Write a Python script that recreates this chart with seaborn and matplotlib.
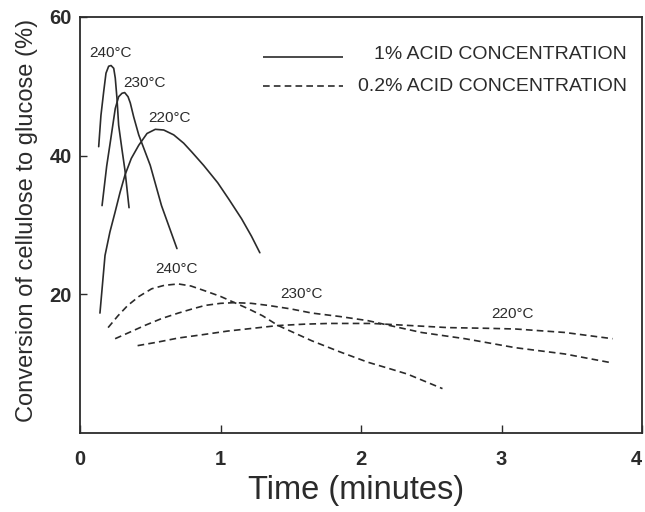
import matplotlib
matplotlib.use("Agg")
import matplotlib.pyplot as plt
import seaborn as sns
import pandas as pd

# Cellulose-to-glucose conversion (%) versus reaction time (minutes)
# 1% acid concentration
t_1pct_240 = [0.133, 0.149, 0.169, 0.185, 0.204, 0.221, 0.240, 0.251, 0.263,
              0.275, 0.298, 0.320, 0.349]
y_1pct_240 = [41.3, 45.8, 49.3, 51.9, 52.9, 53.0, 52.6, 51.2, 48.3,
              44.4, 41.0, 37.9, 32.5]

t_1pct_230 = [0.157, 0.190, 0.216, 0.251, 0.275, 0.299, 0.318, 0.342, 0.358,
              0.382, 0.418, 0.500, 0.580, 0.690]
y_1pct_230 = [32.8, 38.5, 42.0, 46.8, 48.5, 49.0, 49.1, 48.5, 47.6,
              45.6, 43.0, 38.6, 32.8, 26.6]

t_1pct_220 = [0.142, 0.178, 0.213, 0.249, 0.285, 0.320, 0.365, 0.418, 0.477,
              0.536, 0.596, 0.667, 0.738, 0.797, 0.880, 0.980, 1.060, 1.150,
              1.220, 1.280]
y_1pct_220 = [17.3, 25.6, 29.0, 31.8, 34.7, 37.2, 39.6, 41.5, 43.2,
              43.8, 43.7, 43.0, 41.8, 40.5, 38.6, 36.1, 33.7, 30.9,
              28.4, 26.0]

# 0.2% acid concentration
t_02pct_240 = [0.20, 0.27, 0.34, 0.42, 0.51, 0.60, 0.70, 0.79, 0.89, 1.00,
               1.10, 1.20, 1.30, 1.41, 1.53, 1.65, 1.85, 2.05, 2.20, 2.33, 2.58]
y_02pct_240 = [15.2, 16.9, 18.4, 19.7, 20.8, 21.3, 21.5, 21.2, 20.5, 19.7,
               18.8, 17.9, 16.9, 15.5, 14.4, 13.3, 11.7, 10.2, 9.3, 8.5, 6.4]

t_02pct_230 = [0.25, 0.35, 0.46, 0.58, 0.70, 0.80, 0.89, 1.00, 1.10, 1.22,
               1.34, 1.50, 1.65, 1.85, 2.05, 2.25, 2.43, 2.74, 3.10, 3.45, 3.79]
y_02pct_230 = [13.6, 14.5, 15.5, 16.5, 17.3, 17.9, 18.4, 18.7, 18.8, 18.7,
               18.4, 17.9, 17.3, 16.8, 16.2, 15.3, 14.5, 13.6, 12.3, 11.4, 10.1]

t_02pct_220 = [0.41, 0.55, 0.70, 0.88, 1.05, 1.23, 1.41, 1.60, 1.77, 2.08,
               2.35, 2.62, 2.90, 3.10, 3.45, 3.79]
y_02pct_220 = [12.6, 13.1, 13.7, 14.2, 14.7, 15.1, 15.5, 15.7, 15.8, 15.8,
               15.5, 15.2, 15.1, 15.0, 14.5, 13.6]

curves = [
    ("1%", "240", t_1pct_240, y_1pct_240),
    ("1%", "230", t_1pct_230, y_1pct_230),
    ("1%", "220", t_1pct_220, y_1pct_220),
    ("0.2%", "240", t_02pct_240, y_02pct_240),
    ("0.2%", "230", t_02pct_230, y_02pct_230),
    ("0.2%", "220", t_02pct_220, y_02pct_220),
]

rows = []
for acid, temp, ts, ys in curves:
    for t, y in zip(ts, ys):
        rows.append({"acid": acid, "temp": temp, "curve": acid + "_" + temp,
                     "time": t, "conversion": y})
df = pd.DataFrame(rows)

# Temperature annotations: (text, time, conversion)
temp_labels = [
    ("240°C", 0.22, 54.8),
    ("230°C", 0.46, 50.5),
    ("220°C", 0.64, 45.4),
    ("240°C", 0.69, 23.6),
    ("230°C", 1.58, 20.0),
    ("220°C", 3.08, 17.2),
]

legend_labels = ["1% ACID CONCENTRATION", "0.2% ACID CONCENTRATION"]
x_ticks = [0, 1, 2, 3, 4]
y_ticks = [20, 40, 60]

sns.set_theme(style="white")
plt.rcParams["font.family"] = ["Liberation Sans", "DejaVu Sans"]

ink = "#2b2b2b"
dash_pattern = (4, 2.5)

fig = plt.figure(figsize=(6.45, 5.12), dpi=100)
ax = fig.add_axes([80 / 645, 79 / 512, 562 / 645, 416 / 512])

sns.lineplot(data=df, x="time", y="conversion", units="curve", estimator=None,
             style="acid", dashes={"1%": "", "0.2%": dash_pattern},
             color=ink, linewidth=1.2, sort=False, legend=False, ax=ax)

for text, tx, ty in temp_labels:
    ax.text(tx, ty, text, ha="center", va="center", fontsize=11, color=ink)

# Key for the two acid concentrations
ax.plot([0.326, 0.468], [0.904, 0.904], transform=ax.transAxes,
        color=ink, lw=1.2, solid_capstyle="butt")
ax.plot([0.326, 0.468], [0.834, 0.834], transform=ax.transAxes,
        color=ink, lw=1.2, dashes=dash_pattern)
ax.text(0.973, 0.909, legend_labels[0], transform=ax.transAxes,
        ha="right", va="center", fontsize=14, color=ink)
ax.text(0.973, 0.834, legend_labels[1], transform=ax.transAxes,
        ha="right", va="center", fontsize=14, color=ink)

ax.set_xlim(0, 4)
ax.set_ylim(0, 60)
ax.set_xticks(x_ticks)
ax.set_yticks(y_ticks)
ax.set_xticklabels([str(v) for v in x_ticks], fontweight="bold")
ax.set_yticklabels([str(v) for v in y_ticks], fontweight="bold")
ax.tick_params(axis="x", direction="in", length=6, width=1.0, pad=12,
               labelsize=14.5, colors=ink)
ax.tick_params(axis="y", direction="in", length=5, width=1.0, pad=6,
               labelsize=14.5, colors=ink)
ax.tick_params(bottom=True, left=True)
# keep the last x tick label inside the figure edge
ax.get_xticklabels()[-1].set_ha("right")

for side in ["left", "right", "top", "bottom"]:
    ax.spines[side].set_visible(True)
    ax.spines[side].set_color(ink)
    ax.spines[side].set_linewidth(1.3)

ax.set_xlabel("Time (minutes)", fontsize=23.5, color=ink)
ax.set_ylabel("Conversion of cellulose to glucose (%)", fontsize=17, color=ink)
ax.xaxis.set_label_coords(0.491, -0.10)
ax.yaxis.set_label_coords(-0.075, 0.51)

fig.savefig("out.png", dpi=100, facecolor="white")
